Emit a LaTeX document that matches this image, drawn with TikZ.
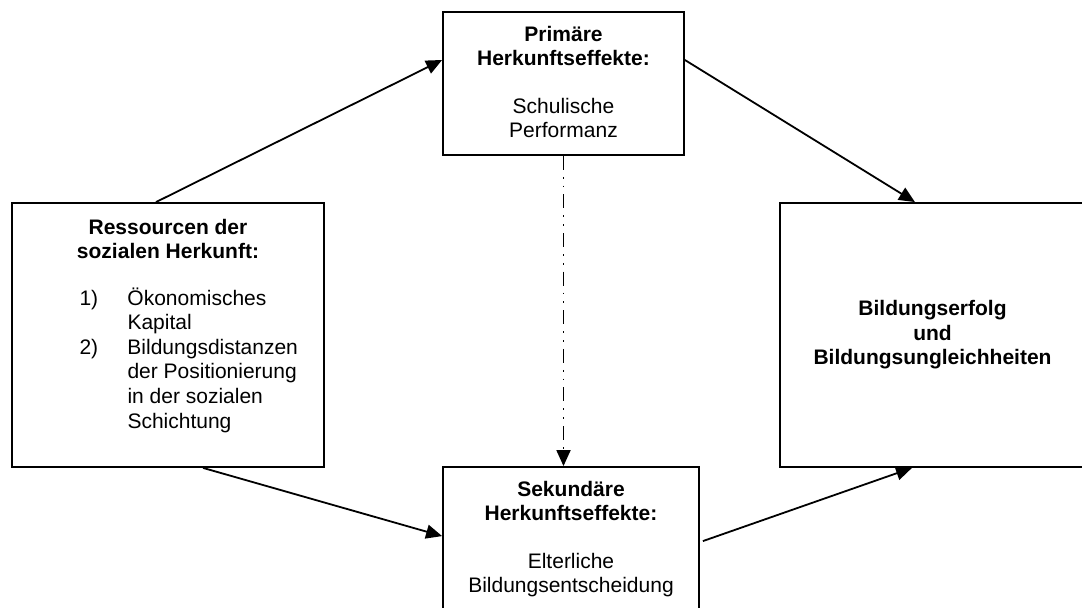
\documentclass[tikz,border=0pt]{standalone}
\usepackage{fontspec}
\setmainfont{Liberation Sans}
\usetikzlibrary{positioning,arrows.meta}

\begin{document}
\begin{tikzpicture}[
    x=0.5pt, y=-0.5pt,
    font=\fontsize{10.5pt}{12pt}\selectfont,
    kasten/.style={draw, line width=0.9pt, inner sep=0pt},
    ktext/.style={align=center, inner sep=0pt},
    pfeil/.style={-{Triangle[length=8pt,width=7pt]}, line width=0.9pt}
    ]
	\clip (0,0) rectangle (1082,608);
	% Kaesten
	\node [kasten, minimum width=156pt, minimum height=132pt] (ressourcen) at (168,335) {};
	\node [kasten, minimum width=120.5pt, minimum height=71.5pt] (primaer) at (563.5,83.5) {};
	\node [kasten, minimum width=128pt, minimum height=76.5pt] (sekundaer) at (571,543.5) {};
	\node [kasten, minimum width=152.5pt, minimum height=132pt, align=center, font=\fontsize{10.5pt}{12.2pt}\selectfont\bfseries] (erfolg) at (932.5,335)
		{Bildungserfolg\\und\\Bildungsungleichheiten};
	% Texte
	\node [ktext, font=\fontsize{10.5pt}{12pt}\selectfont\bfseries, below=8.5pt of ressourcen.north] (ressourcen-titel)
		{Ressourcen der\\sozialen Herkunft:};
	\node [ktext, align=left, anchor=north west, font=\fontsize{10.5pt}{12.3pt}\selectfont] (ressourcen-liste) at ([xshift=34pt,yshift=-42.5pt]ressourcen.north west)
		{\makebox[24pt][l]{1)}Ökonomisches\\\hspace*{24pt}Kapital\\\makebox[24pt][l]{2)}Bildungsdistanzen\\\hspace*{24pt}der Positionierung\\\hspace*{24pt}in der sozialen\\\hspace*{24pt}Schichtung};
	\node [ktext, below=7.5pt of primaer.north] (primaer-text)
		{\textbf{Primäre}\\\textbf{Herkunftseffekte:}\\[12pt]Schulische\\Performanz};
	\node [ktext, below=7.5pt of sekundaer.north] (sekundaer-text)
		{\textbf{Sekundäre}\\\textbf{Herkunftseffekte:}\\[12pt]Elterliche\\Bildungsentscheidung};
	% Pfeile
	\draw [pfeil] ([xshift=-6pt]ressourcen.north) -- ([yshift=11.75pt]primaer.west);
	\draw [pfeil] ([yshift=11.75pt]primaer.east) -- ([xshift=-8.75pt]erfolg.north);
	\draw [pfeil] ([xshift=17.5pt]ressourcen.south) -- ([yshift=-35pt]sekundaer.north west);
	\draw [pfeil] ([xshift=1.5pt,yshift=-37.5pt]sekundaer.north east) -- ([xshift=-10.25pt]erfolg.south);
	\draw [pfeil, dash pattern=on 7pt off 3.5pt on 0.9pt off 3.5pt on 0.9pt off 3.5pt] (primaer.south) -- (primaer.south |- sekundaer.north);
\end{tikzpicture}
\end{document}
